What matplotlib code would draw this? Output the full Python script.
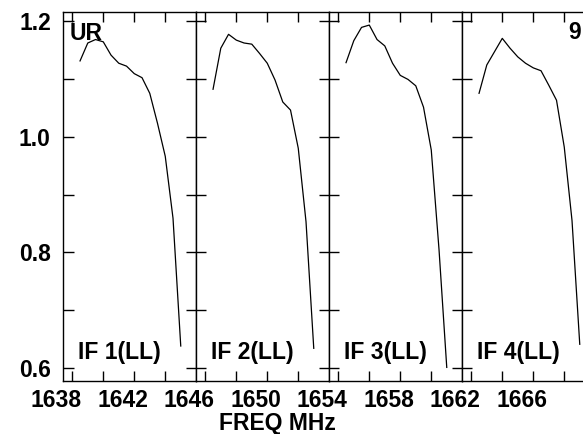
import matplotlib
matplotlib.use('Agg')
import matplotlib.pyplot as plt
import numpy as np

plt.rcParams['font.family'] = ['Liberation Sans', 'DejaVu Sans']
plt.rcParams['font.weight'] = 'bold'

# ---------------- data ----------------
if_names = ['IF 1(LL)', 'IF 2(LL)', 'IF 3(LL)', 'IF 4(LL)']
panel_start = [1638.0, 1646.0, 1654.0, 1662.0]   # MHz, left edge of each IF panel
panel_span = 8.0                                  # MHz per panel
chan1_offset = 0.541                              # MHz, channel 1 from panel edge
chan_width = 0.466                                # MHz per channel
channels = [2, 3, 4, 5, 6, 7, 8, 9, 10, 11, 12, 13, 14, 15]
tick_channels = [1, 5, 9, 13]

amp_if1 = [1.131, 1.162, 1.168, 1.164, 1.141, 1.127, 1.122, 1.109, 1.102, 1.075, 1.023, 0.966, 0.859, 0.638]
amp_if2 = [1.082, 1.153, 1.177, 1.167, 1.162, 1.160, 1.144, 1.127, 1.098, 1.060, 1.046, 0.980, 0.853, 0.634]
amp_if3 = [1.128, 1.166, 1.189, 1.193, 1.168, 1.157, 1.127, 1.106, 1.099, 1.088, 1.051, 0.977, 0.805, 0.601]
amp_if4 = [1.075, 1.124, 1.147, 1.170, 1.153, 1.138, 1.127, 1.119, 1.114, 1.089, 1.063, 0.982, 0.855, 0.641]
amps = [amp_if1, amp_if2, amp_if3, amp_if4]

freq_ticks = [1638, 1642, 1646, 1650, 1654, 1658, 1662, 1666]
y_major = [0.6, 0.8, 1.0, 1.2]
y_minor = [0.7, 0.9, 1.1]
ylim = (0.5775, 1.2156)

# ---------------- layout ----------------
W, H = 583, 434
fig = plt.figure(figsize=(W / 100, H / 100), dpi=100)
left_px, top_px, bot_px, pw = 63.3, 12, 381, 133
px_per_mhz = pw / panel_span
FS = 16.5

axes = []
for i in range(4):
    ax = fig.add_axes([(left_px + i * pw) / W, (H - bot_px) / H, pw / W, (bot_px - top_px) / H])
    f0 = panel_start[i]
    ch = np.array(channels)
    x = f0 + chan1_offset + chan_width * (ch - 1)
    ax.plot(x, amps[i], color='black', lw=0.9)
    # x ticks at channel positions, inward top and bottom, no labels
    tx = [f0 + chan1_offset + chan_width * (c - 1) for c in tick_channels]
    ax.set_xticks(tx)
    ax.set_xticklabels([])
    ax.tick_params(axis='x', which='both', direction='in', length=7, width=1.0,
                   top=True, bottom=True, labelbottom=False)
    ax.set_yticks(y_major)
    ax.set_yticks(y_minor, minor=True)
    ax.set_xlim(f0, f0 + panel_span)
    ax.set_ylim(*ylim)
    for s in ax.spines.values():
        s.set_linewidth(1.0)
        s.set_color('black')
    if i == 0:
        ax.tick_params(axis='y', which='both', direction='in', length=8, width=1.0,
                       left=True, right=False, labelsize=FS, pad=9)
        ax.set_yticklabels(['0.6', '0.8', '1.0', '1.2'], fontweight='bold')
    else:
        ax.tick_params(axis='y', which='both', direction='inout', length=14, width=1.0,
                       left=True, right=False, labelleft=False)
    ax.text(15 / pw, (bot_px - 359) / (bot_px - top_px), if_names[i], transform=ax.transAxes,
            fontsize=FS, fontweight='bold', ha='left', va='baseline')
    axes.append(ax)

# overlay axis carrying the frequency labels (labels sit slightly left of their value)
lab_shift = 0.42      # MHz
ext = 1.5             # MHz of extra room on each side of the overlay
ov = fig.add_axes([(left_px - ext * px_per_mhz) / W, (H - bot_px) / H,
                   (4 * pw + 2 * ext * px_per_mhz) / W, (bot_px - top_px) / H])
ov.patch.set_visible(False)
for s in ov.spines.values():
    s.set_visible(False)
ov.set_yticks([])
ov.set_xticks(freq_ticks)
ov.set_xticklabels([str(f) for f in freq_ticks], fontweight='bold')
ov.tick_params(axis='x', length=0, labelsize=FS, pad=6)
ov.set_xlim(panel_start[0] + lab_shift - ext,
            panel_start[0] + 4 * panel_span + lab_shift + ext)
ov.set_ylim(*ylim)

fig.text(277 / W, 4 / H, 'FREQ MHz', fontsize=FS, fontweight='bold', ha='center', va='baseline')
fig.text(70 / W, (H - 40) / H, 'UR', fontsize=FS, fontweight='bold', ha='left', va='baseline')
fig.text(581 / W, (H - 39) / H, '9', fontsize=FS, fontweight='bold', ha='right', va='baseline')

fig.savefig('out.png', dpi=100)
